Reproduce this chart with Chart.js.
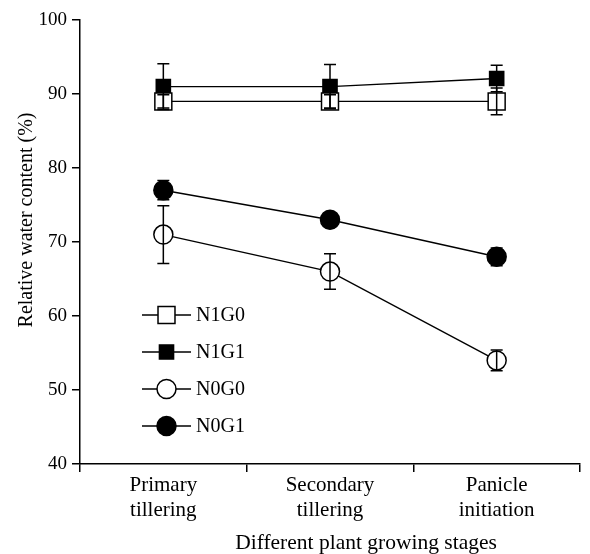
<!DOCTYPE html>
<html>
<head>
<meta charset="utf-8">
<script src="https://cdn.jsdelivr.net/npm/chart.js@4"></script>
<style>
  html, body { margin: 0; padding: 0; background: #fff; overflow: hidden; }
  #wrap { width: 590px; height: 554px; }
  canvas { display: block; }
</style>
</head>
<body>
<div id="wrap"><canvas id="rwc_chart"></canvas></div>
<script>
// growing stages (x categories)
const stages = [["Primary", "tillering"], ["Secondary", "tillering"], ["Panicle", "initiation"]]
const yTicks = [40, 50, 60, 70, 80, 90, 100]
const xTitle = "Different plant growing stages"
const yTitle = "Relative water content (%)"

// relative water content (%) and error bars
const n1g0 = [89, 89, 89]
const n1g0Err = [0.9, 0.9, 1.8]
const n1g1 = [91, 91, 92.1]
const n1g1Err = [3.1, 3.0, 1.8]
const n0g0 = [71, 66, 54]
const n0g0Err = [3.9, 2.4, 1.4]
const n0g1 = [77, 73, 68]
const n0g1Err = [1.3, 0.5, 1.2]

const serif = "'Liberation Serif', 'DejaVu Serif', serif"

function makeSet(label, data, err, style, radius, filled) {
    return {
        label: label,
        data: data,
        err: err,
        borderColor: "#000",
        borderWidth: 1.4,
        pointStyle: style,
        pointRadius: radius,
        pointHoverRadius: radius,
        pointBackgroundColor: filled ? "#000" : "#fff",
        pointBorderColor: "#000",
        pointBorderWidth: 1.5,
        fill: false,
        tension: 0
    }
}

const datasets = [
    makeSet("N1G0", n1g0, n1g0Err, "rect", 12, false),
    makeSet("N1G1", n1g1, n1g1Err, "rect", 10, true),
    makeSet("N0G0", n0g0, n0g0Err, "circle", 9.5, false),
    makeSet("N0G1", n0g1, n0g1Err, "circle", 9.5, true)
]

// error bars drawn through the chart scales
const errorBars = {
    id: "errorBars",
    afterDatasetsDraw(chart) {
        const ctx = chart.ctx
        const y = chart.scales.y
        ctx.save()
        ctx.strokeStyle = "#000"
        ctx.lineWidth = 1.5
        chart.data.datasets.forEach((ds, i) => {
            const meta = chart.getDatasetMeta(i)
            meta.data.forEach((pt, j) => {
                const e = ds.err[j]
                const top = y.getPixelForValue(ds.data[j] + e)
                const bot = y.getPixelForValue(ds.data[j] - e)
                ctx.beginPath()
                ctx.moveTo(pt.x, top); ctx.lineTo(pt.x, bot)
                ctx.moveTo(pt.x - 6, top); ctx.lineTo(pt.x + 6, top)
                ctx.moveTo(pt.x - 6, bot); ctx.lineTo(pt.x + 6, bot)
                ctx.stroke()
            })
        })
        ctx.restore()
    }
}

// legend inside the plot, lower left, plus the two axis titles
const innerLegend = {
    id: "innerLegend",
    afterDraw(chart) {
        const ctx = chart.ctx
        const x0 = 142, x1 = 191, rowTop = 315, rowGap = 37
        ctx.save()
        chart.data.datasets.forEach((ds, i) => {
            const yy = rowTop + i * rowGap
            ctx.strokeStyle = "#000"
            ctx.lineWidth = 1.4
            ctx.beginPath()
            ctx.moveTo(x0, yy); ctx.lineTo(x1, yy)
            ctx.stroke()
            ctx.fillStyle = ds.pointBackgroundColor
            ctx.lineWidth = 1.5
            Chart.helpers.drawPoint(ctx, {
                pointStyle: ds.pointStyle,
                radius: ds.pointRadius,
                rotation: 0,
                borderWidth: 1.5
            }, (x0 + x1) / 2, yy)
            ctx.fillStyle = "#000"
            ctx.font = "20px " + serif
            ctx.textBaseline = "middle"
            ctx.textAlign = "left"
            ctx.fillText(ds.label, x1 + 5, yy + 1)
        })

        ctx.fillStyle = "#000"
        ctx.textAlign = "center"
        ctx.textBaseline = "alphabetic"
        ctx.font = "21.5px " + serif
        ctx.fillText(xTitle, 366, 549)

        ctx.translate(32, 220)
        ctx.rotate(-Math.PI / 2)
        ctx.font = "20px " + serif
        ctx.fillText(yTitle, 0, 0)
        ctx.restore()
    }
}

new Chart(document.getElementById("rwc_chart"), {
    type: "line",
    data: {labels: stages, datasets: datasets},
    options: {
        responsive: true,
        maintainAspectRatio: false,
        animation: false,
        events: [],
        layout: {autoPadding: false, padding: {top: 20, right: 10, left: 0, bottom: 0}},
        plugins: {legend: {display: false}, tooltip: {enabled: false}},
        scales: {
            x: {
                offset: true,
                grid: {offset: true, drawOnChartArea: false, drawTicks: true, tickLength: 8, color: "#000", lineWidth: 1.5},
                border: {display: true, color: "#000", width: 1.5},
                ticks: {color: "#000", font: {family: serif, size: 21, lineHeight: 1.2}, padding: 1, maxRotation: 0},
                afterFit(scale) {
                    scale.height = 90
                    scale.paddingLeft = 0
                    scale.paddingRight = 0
                }
            },
            y: {
                min: 40,
                max: 100,
                afterBuildTicks(scale) { scale.ticks = yTicks.map(v => ({value: v})) },
                grid: {drawOnChartArea: false, drawTicks: true, tickLength: 8, color: "#000", lineWidth: 1.5},
                border: {display: true, color: "#000", width: 1.5},
                ticks: {color: "#000", font: {family: serif, size: 19}, padding: 5},
                afterFit(scale) { scale.width = 80 }
            }
        }
    },
    plugins: [errorBars, innerLegend]
})
</script>
</body>
</html>
